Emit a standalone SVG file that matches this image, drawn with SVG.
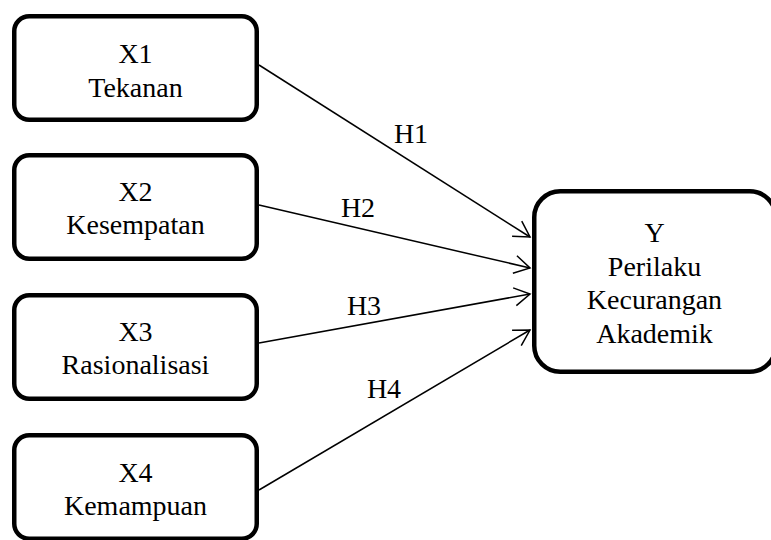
<svg xmlns="http://www.w3.org/2000/svg" width="771" height="540" viewBox="0 0 771 540">
<style>
.box{fill:#fff;stroke:#000;stroke-width:4.5}
.t{font-family:'Liberation Serif','DejaVu Serif','Times New Roman',Times,serif;font-size:28px;fill:#000;text-anchor:middle}
.c{stroke:#000;stroke-width:1.5;fill:none;marker-end:url(#ah)}
</style>
<defs>
<marker id="ah" markerUnits="userSpaceOnUse" markerWidth="24" markerHeight="24" refX="0" refY="0" viewBox="-20 -12 24 24" orient="auto" overflow="visible">
<path d="M-15.5,-9 L0,0 L-15.5,9" fill="none" stroke="#000" stroke-width="1.5"/>
</marker>
</defs>
<rect width="771" height="540" fill="#fff"/>
<g id="connectors">
<line class="c" x1="259" y1="65" x2="530" y2="237"/>
<line class="c" x1="259" y1="205" x2="530" y2="268"/>
<line class="c" x1="259" y1="343" x2="530" y2="294"/>
<line class="c" x1="259" y1="490" x2="530" y2="330"/>
<text class="t" x="411" y="143" font-family="Liberation Serif, serif">H1</text>
<text class="t" x="358" y="217" font-family="Liberation Serif, serif">H2</text>
<text class="t" x="364" y="315" font-family="Liberation Serif, serif">H3</text>
<text class="t" x="384" y="398" font-family="Liberation Serif, serif">H4</text>
</g>
<g id="x1">
<rect class="box" x="14.25" y="16.25" width="242.5" height="103.5" rx="15"/>
<text class="t" x="135.5" y="63">X1</text>
<text class="t" x="135.5" y="97">Tekanan</text>
</g>
<g id="x2">
<rect class="box" x="14.25" y="155.25" width="242.5" height="103.5" rx="15"/>
<text class="t" x="135.5" y="201">X2</text>
<text class="t" x="135.5" y="234">Kesempatan</text>
</g>
<g id="x3">
<rect class="box" x="14.25" y="295.25" width="242.5" height="103.5" rx="15"/>
<text class="t" x="135.5" y="341">X3</text>
<text class="t" x="135.5" y="374">Rasionalisasi</text>
</g>
<g id="x4">
<rect class="box" x="14.25" y="435.25" width="242.5" height="103.5" rx="15"/>
<text class="t" x="135.5" y="482">X4</text>
<text class="t" x="135.5" y="515">Kemampuan</text>
</g>
<g id="y">
<rect class="box" x="534.25" y="191.25" width="241.5" height="180.5" rx="26"/>
<text class="t" x="654.5" y="242">Y</text>
<text class="t" x="654.5" y="276">Perilaku</text>
<text class="t" x="654.5" y="309">Kecurangan</text>
<text class="t" x="654.5" y="343">Akademik</text>
</g>
</svg>
